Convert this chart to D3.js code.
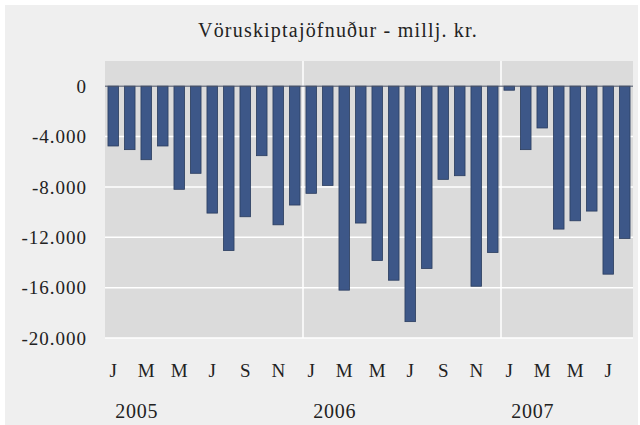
<!DOCTYPE html>
<html>
<head>
<meta charset="utf-8">
<script src="https://cdn.jsdelivr.net/npm/d3@7"></script>
<style>
  body { margin: 0; background: #fff; }
  svg text { font-family: "Liberation Serif", "Times New Roman", Times, Tinos, "Nimbus Roman", "DejaVu Serif", "Noto Serif", FreeSerif, serif; fill: #222; }
</style>
</head>
<body>
<svg width="640" height="425"></svg>
<script>
// data: monthly trade balance, million ISK
var years = ["2005", "2006", "2007"];
var monthLetters = ["J","F","M","A","M","J","J","A","S","O","N","D"];
var values2005 = [-4750, -5040, -5840, -4750, -8190, -6920, -10080, -13050, -10370, -5520, -11010, -9440];
var values2006 = [-8510, -7880, -16200, -10870, -13840, -15410, -18700, -14480, -7400, -7110, -15890, -13210];
var values2007 = [-320, -5040, -3320, -11350, -10690, -9920, -14930, -12090];
var yTicks = [0, -4000, -8000, -12000, -16000, -20000];

var svg = d3.select("svg");

svg.append("rect")
  .attr("x", 5).attr("y", 5)
  .attr("width", 633).attr("height", 420)
  .attr("fill", "#efefef");

svg.append("text")
  .attr("x", 338)
  .attr("y", 37)
  .attr("text-anchor", "middle")
  .style("font-size", "20px")
  .style("letter-spacing", "1.2px")
  .text("Vöruskiptajöfnuður - millj. kr.");

// build month list
var data = [];
[values2005, values2006, values2007].forEach(function(vals, yi) {
  vals.forEach(function(v, mi) {
    data.push({ key: years[yi] + "-" + mi, year: years[yi], month: mi, value: v });
  });
});

var plotLeft = 105, plotRight = 633, plotTop = 61, plotBottom = 338;

var xScale = d3.scaleBand()
  .domain(data.map(function(d) { return d.key; }))
  .range([plotLeft, plotRight])
  .paddingInner(0.36)
  .paddingOuter(0.18);

var yScale = d3.scaleLinear()
  .domain([-20000, 2000])
  .range([plotBottom, plotTop]);

svg.append("rect")
  .attr("x", plotLeft).attr("y", plotTop)
  .attr("width", plotRight - plotLeft).attr("height", plotBottom - plotTop)
  .attr("fill", "#dbdbdb");

// horizontal gridlines
svg.selectAll(".hgrid")
  .data(yTicks.filter(function(t) { return t !== 0; }))
  .enter()
  .append("line")
  .attr("x1", plotLeft).attr("x2", plotRight)
  .attr("y1", function(d) { return yScale(d); })
  .attr("y2", function(d) { return yScale(d); })
  .attr("stroke", "#fff")
  .attr("stroke-width", 1.5);

// year separators
var step = xScale.step();
function sepX(d) { return xScale(d + "-0") - step * xScale.paddingInner() / 2; }
svg.selectAll(".vgrid")
  .data(years.slice(1))
  .enter()
  .append("line")
  .attr("x1", sepX)
  .attr("x2", sepX)
  .attr("y1", plotTop).attr("y2", plotBottom)
  .attr("stroke", "#fff")
  .attr("stroke-width", 1.5);

// y axis labels
var yAxis = d3.axisLeft(yScale)
  .tickValues(yTicks)
  .tickSize(0)
  .tickPadding(0)
  .tickFormat(function(d) { return d3.format(",")(d).replace(/,/g, ".").replace("−", "-"); });

var gy = svg.append("g")
  .attr("transform", "translate(87,0)")
  .call(yAxis);
gy.attr("font-family", null).attr("font-size", null);
gy.select(".domain").remove();
gy.selectAll("text")
  .style("font-size", "19px")
  .style("letter-spacing", "1px")
  .attr("fill", "#222");

// bars
svg.selectAll(".bar")
  .data(data)
  .enter()
  .append("rect")
  .attr("class", "bar")
  .attr("x", function(d) { return xScale(d.key); })
  .attr("y", yScale(0))
  .attr("width", xScale.bandwidth())
  .attr("height", function(d) { return yScale(d.value) - yScale(0); })
  .attr("fill", "#3d5788")
  .attr("stroke", "#2a3c5e")
  .attr("stroke-width", 0.8);

// zero line
svg.append("line")
  .attr("x1", plotLeft).attr("x2", plotRight)
  .attr("y1", yScale(0)).attr("y2", yScale(0))
  .attr("stroke", "#4a5468")
  .attr("stroke-width", 1);

// month labels every second month
svg.selectAll(".mlabel")
  .data(data.filter(function(d) { return d.month % 2 === 0 && !(d.year === "2007" && d.month > 6); }))
  .enter()
  .append("text")
  .attr("x", function(d) { return xScale(d.key) + xScale.bandwidth() / 2; })
  .attr("y", 377)
  .attr("text-anchor", "middle")
  .style("font-size", "19px")
  .text(function(d) { return monthLetters[d.month]; });

// year labels
svg.selectAll(".ylabel")
  .data(years)
  .enter()
  .append("text")
  .attr("x", function(d) { return xScale(d + "-1") + xScale.bandwidth() / 2 + 7; })
  .attr("y", 418)
  .attr("text-anchor", "middle")
  .style("font-size", "20px")
  .style("letter-spacing", "0.8px")
  .text(function(d) { return d; });
</script>
</body>
</html>
